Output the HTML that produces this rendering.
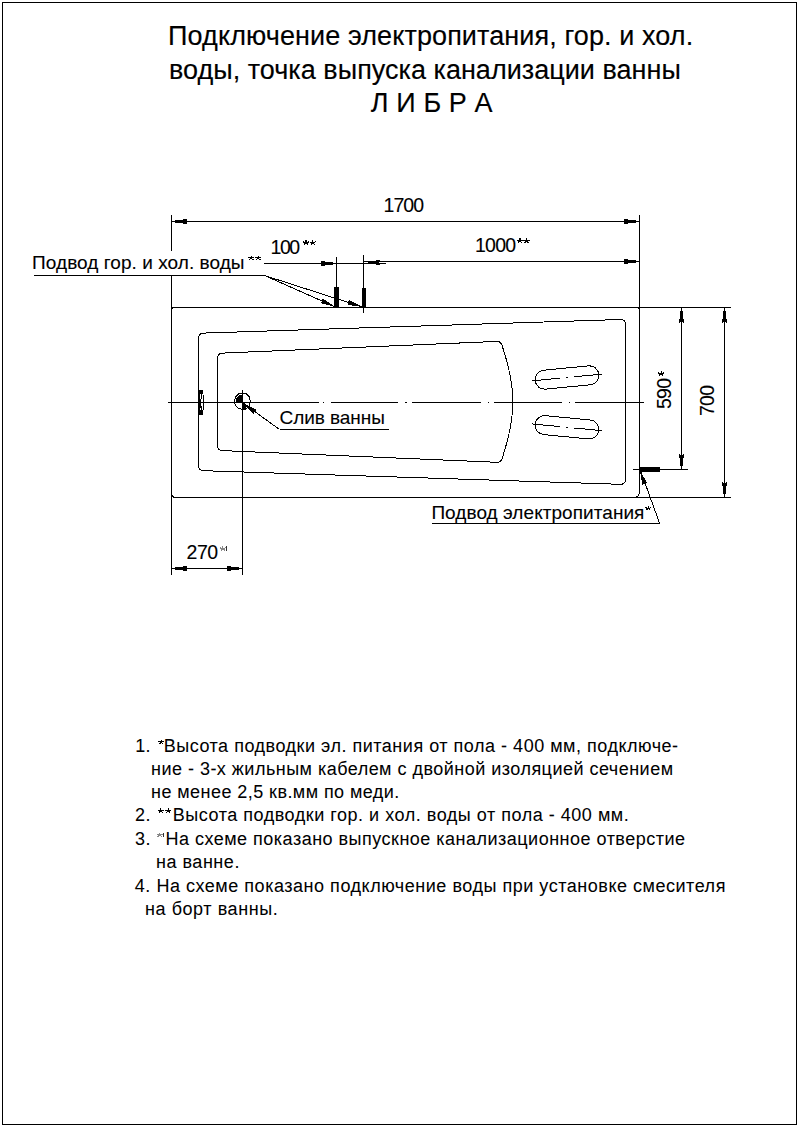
<!DOCTYPE html>
<html><head><meta charset="utf-8"><title>Libra</title>
<style>
html,body{margin:0;padding:0;background:#fff;width:798px;height:1127px;overflow:hidden}
svg{position:absolute;left:0;top:0;display:block}
text{font-family:"Liberation Sans",sans-serif;white-space:pre;stroke:#000}
</style></head><body>
<svg width="798" height="1127" viewBox="0 0 798 1127">
<g fill="none" stroke="#000" stroke-linecap="butt" shape-rendering="crispEdges">
<rect x="2.5" y="2.5" width="794" height="1122" stroke-width="1.1"/>
<line x1="171.5" y1="215" x2="171.5" y2="251" stroke-width="1"/>
<line x1="171.5" y1="275.5" x2="171.5" y2="574.6" stroke-width="1"/>
<line x1="639.5" y1="215" x2="639.5" y2="491" stroke-width="1"/>
<path d="M639.5,491 Q639.5,497.5 634,497.5" stroke-width="1" fill="none"/>
<line x1="176" y1="497.5" x2="731" y2="497.5" stroke-width="1"/>
<line x1="171.5" y1="307.5" x2="731" y2="307.5" stroke-width="1"/>
<path d="M171.5,310.5 Q171.5,307.5 175,307.5" stroke-width="1" fill="none"/>
<path d="M171.5,493.5 Q171.5,497.5 176,497.5" stroke-width="1" fill="none"/>
<path d="M636.5,307.5 Q639.5,307.5 639.5,310.5" stroke-width="1" fill="none"/>
<path d="M198.5,338.3 Q198.5,333.3 203.5,333.1 L620.4,319.5 Q625.5,319.5 625.5,324.5 L625.5,479.3 Q625.5,484.3 620.4,484.3 L203.5,470.7 Q198.5,470.5 198.5,465.5 Z" stroke-width="1" fill="none"/>
<path d="M217.5,358.3 Q217.5,353.3 222.5,353.1 L497.3,341.4 Q501,341.4 502.3,346.1 C507.5,362 512.9,385 512.9,402 C512.9,419 507.5,442 502.3,458 Q501,462.3 497.3,462.3 L222.5,450.6 Q217.5,450.4 217.5,445.4 Z" stroke-width="1" fill="none"/>
<line x1="168" y1="402.5" x2="319" y2="402.5" stroke-width="1"/>
<line x1="331" y1="402.5" x2="398.2" y2="402.5" stroke-width="1"/>
<line x1="412.2" y1="402.5" x2="481" y2="402.5" stroke-width="1"/>
<line x1="493.9" y1="402.5" x2="562" y2="402.5" stroke-width="1"/>
<line x1="574.9" y1="402.5" x2="644.2" y2="402.5" stroke-width="1"/>
<line x1="322.8" y1="402.5" x2="324.4" y2="402.5" stroke-width="1"/>
<line x1="405" y1="402.5" x2="406.6" y2="402.5" stroke-width="1"/>
<line x1="487.7" y1="402.5" x2="489.3" y2="402.5" stroke-width="1"/>
<line x1="568.7" y1="402.5" x2="570.3" y2="402.5" stroke-width="1"/>
<rect x="535" y="368" width="64" height="19" rx="9.5" ry="9.5" stroke-width="1" transform="rotate(-5.5 567 377.5)"/>
<g transform="rotate(-5.5 567 377.5)"><line x1="532" y1="377.5" x2="559.6" y2="377.5"/><line x1="566.2" y1="377.5" x2="567.8" y2="377.5"/><line x1="574.5" y1="377.5" x2="602" y2="377.5"/></g>
<rect x="535" y="417.8" width="64" height="19" rx="9.5" ry="9.5" stroke-width="1" transform="rotate(5.5 567 427.3)"/>
<g transform="rotate(5.5 567 427.3)"><line x1="532" y1="427.3" x2="559.6" y2="427.3"/><line x1="566.2" y1="427.3" x2="567.8" y2="427.3"/><line x1="574.5" y1="427.3" x2="602" y2="427.3"/></g>
<rect x="198" y="389.5" width="2" height="25.2" fill="#000" stroke="none"/>
<rect x="198" y="399" width="2.8" height="9" fill="#000" stroke="none"/>
<rect x="200" y="389.5" width="2.5" height="4.5" fill="#000" stroke="none"/>
<rect x="200" y="410" width="2.5" height="4.7" fill="#000" stroke="none"/>
<line x1="201.5" y1="394" x2="201.5" y2="398.5" stroke-width="1"/>
<line x1="201.5" y1="406" x2="201.5" y2="410" stroke-width="1"/>
<line x1="203.5" y1="395" x2="203.5" y2="409.8" stroke-width="1"/>
<path d="M242.5,393.2 L246.5,394 L249.6,397.2 L250.3,401.5 L249.3,405.8 L246,408.8 L242.5,409.3 L238.5,408.6 L235.3,405.5 L234.4,401.5 L235.3,397.3 L238.5,394 Z" stroke-width="1" fill="none"/>
<polygon points="242.5,402.5 242.5,394.3 239.2,395.2 236.6,397.8 235.8,402.5" fill="#000" stroke="none"/>
<polygon points="242.5,402.5 242.5,410 245.8,410 246.8,408.2 244.5,403.5" fill="#000" stroke="none"/>
<line x1="242.5" y1="390" x2="242.5" y2="574.6" stroke-width="1"/>
<line x1="245" y1="404.5" x2="279.5" y2="429.5" stroke-width="1"/>
<line x1="279.5" y1="429.5" x2="389" y2="429.5" stroke-width="1"/>
<polygon points="243.5,403.5 256.31,409.67 253.39,413.72" fill="#000" stroke="none"/>
<line x1="171.5" y1="221.5" x2="639.5" y2="221.5" stroke-width="1"/>
<polygon points="175,220 183,220 183,219 187,219 187,220.3 186,221.5 187,222.7 187,224 183,224 183,223 175,223" fill="#000" stroke="none" shape-rendering="crispEdges"/>
<polygon points="636,220 628,220 628,219 624,219 624,220.3 625,221.5 624,222.7 624,224 628,224 628,223 636,223" fill="#000" stroke="none" shape-rendering="crispEdges"/>
<line x1="363.5" y1="255" x2="363.5" y2="312.7" stroke-width="1"/>
<line x1="336.5" y1="257" x2="336.5" y2="307.5" stroke-width="1"/>
<line x1="363.5" y1="261.5" x2="639.5" y2="261.5" stroke-width="1"/>
<polygon points="636,260 628,260 628,259 624,259 624,260.3 625,261.5 624,262.7 624,264 628,264 628,263 636,263" fill="#000" stroke="none" shape-rendering="crispEdges"/>
<line x1="264" y1="263.5" x2="386" y2="263.5" stroke-width="1"/>
<polygon points="333,262 325,262 325,261 321,261 321,262.3 322,263.5 321,264.7 321,266 325,266 325,265 333,265" fill="#000" stroke="none" shape-rendering="crispEdges"/>
<polygon points="367.8,261 375.8,261 375.8,260 379.8,260 379.8,261.3 378.8,262.5 379.8,263.7 379.8,265 375.8,265 375.8,264 367.8,264" fill="#000" stroke="none" shape-rendering="crispEdges"/>
<rect x="334.4" y="287" width="4.5" height="19.5" fill="#000" stroke="none"/>
<rect x="362.2" y="287.5" width="3.8" height="19" fill="#000" stroke="none"/>
<line x1="34" y1="275.5" x2="264.5" y2="275.5" stroke-width="1"/>
<line x1="264.5" y1="275.5" x2="335.5" y2="307" stroke-width="1"/>
<line x1="264.5" y1="275.5" x2="362.5" y2="307" stroke-width="1"/>
<polygon points="335.5,307 320.77,303.2 322.8,298.63" fill="#000" stroke="none"/>
<polygon points="362.5,307 347.45,304.79 348.98,300.03" fill="#000" stroke="none"/>
<line x1="633" y1="469.5" x2="688" y2="469.5" stroke-width="1"/>
<line x1="681.5" y1="307.5" x2="681.5" y2="469.5" stroke-width="1"/>
<polygon points="680,310.6 680,318.6 679,318.6 679,322.6 680.3,322.6 681.5,321.6 682.7,322.6 684,322.6 684,318.6 683,318.6 683,310.6" fill="#000" stroke="none" shape-rendering="crispEdges"/>
<polygon points="680,466.4 680,458.4 679,458.4 679,454.4 680.3,454.4 681.5,455.4 682.7,454.4 684,454.4 684,458.4 683,458.4 683,466.4" fill="#000" stroke="none" shape-rendering="crispEdges"/>
<line x1="724.5" y1="307.5" x2="724.5" y2="497.5" stroke-width="1"/>
<polygon points="723,310.6 723,318.6 722,318.6 722,322.6 723.3,322.6 724.5,321.6 725.7,322.6 727,322.6 727,318.6 726,318.6 726,310.6" fill="#000" stroke="none" shape-rendering="crispEdges"/>
<polygon points="723,494.4 723,486.4 722,486.4 722,482.4 723.3,482.4 724.5,483.4 725.7,482.4 727,482.4 727,486.4 726,486.4 726,494.4" fill="#000" stroke="none" shape-rendering="crispEdges"/>
<rect x="639.5" y="467.3" width="20.5" height="4.3" fill="#000" stroke="none"/>
<line x1="641" y1="472" x2="659.5" y2="523" stroke-width="1"/>
<line x1="432" y1="523" x2="659.5" y2="523" stroke-width="1"/>
<polygon points="640.2,471.6 647.34,482.8 642.2,484.74" fill="#000" stroke="none"/>
<line x1="171.5" y1="568.5" x2="242.5" y2="568.5" stroke-width="1"/>
<polygon points="175,567 183,567 183,566 187,566 187,567.3 186,568.5 187,569.7 187,571 183,571 183,570 175,570" fill="#000" stroke="none" shape-rendering="crispEdges"/>
<polygon points="239,567 231,567 231,566 227,566 227,567.3 228,568.5 227,569.7 227,571 231,571 231,570 239,570" fill="#000" stroke="none" shape-rendering="crispEdges"/>
<path d="M161.3,742.2L161.3,740.33M161.3,742.2L163.77,741.62M161.3,742.2L162.83,743.71M161.3,742.2L159.77,743.71M161.3,742.2L158.83,741.62" stroke="#000" stroke-width="1.1" stroke-linecap="square" fill="none"/>
<path d="M160.8,810.8L160.8,808.93M160.8,810.8L163.27,810.22M160.8,810.8L162.33,812.31M160.8,810.8L159.27,812.31M160.8,810.8L158.33,810.22" stroke="#000" stroke-width="1.1" stroke-linecap="square" fill="none"/>
<path d="M168.3,810.8L168.3,808.93M168.3,810.8L170.77,810.22M168.3,810.8L169.83,812.31M168.3,810.8L166.77,812.31M168.3,810.8L165.83,810.22" stroke="#000" stroke-width="1.1" stroke-linecap="square" fill="none"/>
<path d="M159.8,835L159.8,833.13M159.8,835L162.27,834.42M159.8,835L161.33,836.51M159.8,835L158.27,836.51M159.8,835L157.33,834.42" stroke="#888" stroke-width="1.1" stroke-linecap="square" fill="none"/>
<line x1="163.3" y1="832.5" x2="163.3" y2="837" stroke-width="0.8"/>
<path d="M520,240.8L520,238.93M520,240.8L522.47,240.22M520,240.8L521.53,242.31M520,240.8L518.47,242.31M520,240.8L517.53,240.22" stroke="#000" stroke-width="1.1" stroke-linecap="square" fill="none"/>
<path d="M526.5,240.8L526.5,238.93M526.5,240.8L528.97,240.22M526.5,240.8L528.03,242.31M526.5,240.8L524.97,242.31M526.5,240.8L524.03,240.22" stroke="#000" stroke-width="1.1" stroke-linecap="square" fill="none"/>
<path d="M306,242.6L306,240.73M306,242.6L308.47,242.02M306,242.6L307.53,244.11M306,242.6L304.47,244.11M306,242.6L303.53,242.02" stroke="#000" stroke-width="1.1" stroke-linecap="square" fill="none"/>
<path d="M312.7,242.6L312.7,240.73M312.7,242.6L315.17,242.02M312.7,242.6L314.23,244.11M312.7,242.6L311.17,244.11M312.7,242.6L310.23,242.02" stroke="#000" stroke-width="1.1" stroke-linecap="square" fill="none"/>
<path d="M251.2,258L251.2,256.13M251.2,258L253.67,257.42M251.2,258L252.73,259.51M251.2,258L249.67,259.51M251.2,258L248.73,257.42" stroke="#000" stroke-width="1.1" stroke-linecap="square" fill="none"/>
<path d="M258.2,258L258.2,256.13M258.2,258L260.67,257.42M258.2,258L259.73,259.51M258.2,258L256.67,259.51M258.2,258L255.73,257.42" stroke="#000" stroke-width="1.1" stroke-linecap="square" fill="none"/>
<path d="M648.3,508.4L648.3,506.53M648.3,508.4L650.77,507.82M648.3,508.4L649.83,509.91M648.3,508.4L646.77,509.91M648.3,508.4L645.83,507.82" stroke="#000" stroke-width="1.1" stroke-linecap="square" fill="none"/>
<path d="M222.8,548.5L222.8,546.63M222.8,548.5L225.27,547.92M222.8,548.5L224.33,550.01M222.8,548.5L221.27,550.01M222.8,548.5L220.33,547.92" stroke="#888" stroke-width="1.1" stroke-linecap="square" fill="none"/>
<line x1="226.8" y1="546" x2="226.8" y2="550.5" stroke-width="0.8"/>
<path d="M661.2,373.6L661.2,371.73M661.2,373.6L663.67,373.02M661.2,373.6L662.73,375.11M661.2,373.6L659.67,375.11M661.2,373.6L658.73,373.02" stroke="#000" stroke-width="1.1" stroke-linecap="square" fill="none"/>
</g>
<g>
<text x="168.1" y="45" font-size="27" textLength="525.1" lengthAdjust="spacing" fill="#000" stroke-width="0.15">Подключение электропитания, гор. и хол.</text>
<text x="169" y="78.8" font-size="27" textLength="511.8" lengthAdjust="spacing" fill="#000" stroke-width="0.15">воды, точка выпуска канализации ванны</text>
<text x="370.8" y="112.1" font-size="27" textLength="121.8" lengthAdjust="spacing" fill="#000" stroke-width="0.15">Л И Б Р А</text>
<text x="135.3" y="752" font-size="18" textLength="15.3" lengthAdjust="spacing" fill="#000" stroke-width="0.05">1.</text>
<text x="163.7" y="752" font-size="18" textLength="514.4" lengthAdjust="spacing" fill="#000" stroke-width="0.05">Высота подводки эл. питания от пола - 400 мм, подключе-</text>
<text x="151" y="775" font-size="18" textLength="522" lengthAdjust="spacing" fill="#000" stroke-width="0.05">ние - 3-х жильным кабелем с двойной изоляцией сечением</text>
<text x="151" y="798" font-size="18" textLength="248.3" lengthAdjust="spacing" fill="#000" stroke-width="0.05">не менее 2,5 кв.мм по меди.</text>
<text x="135" y="821" font-size="18" textLength="15.6" lengthAdjust="spacing" fill="#000" stroke-width="0.05">2.</text>
<text x="172.8" y="821" font-size="18" textLength="455.9" lengthAdjust="spacing" fill="#000" stroke-width="0.05">Высота подводки гор. и хол. воды от пола - 400 мм.</text>
<text x="135" y="845" font-size="18" textLength="15.6" lengthAdjust="spacing" fill="#000" stroke-width="0.05">3.</text>
<text x="165.5" y="845" font-size="18" textLength="519.5" lengthAdjust="spacing" fill="#000" stroke-width="0.05">На схеме показано выпускное канализационное отверстие</text>
<text x="155.9" y="868" font-size="18" textLength="83.5" lengthAdjust="spacing" fill="#000" stroke-width="0.05">на ванне.</text>
<text x="134.8" y="891.5" font-size="18" textLength="590.6" lengthAdjust="spacing" fill="#000" stroke-width="0.05">4. На схеме показано подключение воды при установке смесителя</text>
<text x="145" y="915" font-size="18" textLength="132.7" lengthAdjust="spacing" fill="#000" stroke-width="0.05">на борт ванны.</text>
<text x="383.5" y="211.8" font-size="19.5" textLength="40.5" lengthAdjust="spacing" fill="#000" stroke-width="0.1">1700</text>
<text x="475" y="252" font-size="19.5" textLength="41.2" lengthAdjust="spacing" fill="#000" stroke-width="0.1">1000</text>
<text x="270.6" y="253.9" font-size="19.5" textLength="29.6" lengthAdjust="spacing" fill="#000" stroke-width="0.1">100</text>
<text x="32.1" y="269" font-size="19" textLength="212.4" lengthAdjust="spacing" fill="#000" stroke-width="0.1">Подвод гор. и хол. воды</text>
<text x="279.6" y="423.5" font-size="19" textLength="105.2" lengthAdjust="spacing" fill="#000" stroke-width="0.1">Слив ванны</text>
<text x="431.4" y="518.9" font-size="19" textLength="213" lengthAdjust="spacing" fill="#000" stroke-width="0.1">Подвод электропитания</text>
<text x="186.6" y="558.7" font-size="19.5" textLength="31.6" lengthAdjust="spacing" fill="#000" stroke-width="0.1">270</text>
<text x="671.5" y="409.1" font-size="19.5" textLength="31.3" lengthAdjust="spacing" fill="#000" stroke-width="0.1" transform="rotate(-90 671.5 409.1)">590</text>
<text x="713.6" y="416.1" font-size="19.5" textLength="31.3" lengthAdjust="spacing" fill="#000" stroke-width="0.1" transform="rotate(-90 713.6 416.1)">700</text>
</g>
</svg>
</body></html>
